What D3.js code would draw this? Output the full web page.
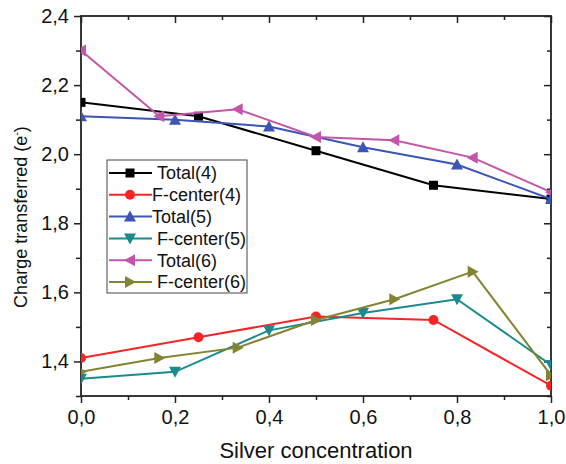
<!DOCTYPE html>
<html>
<head>
<meta charset="utf-8">
<script src="https://cdn.jsdelivr.net/npm/d3@7"></script>
<style>
body { margin: 0; background: #fff; }
svg { font-family: "Liberation Sans", Arial, sans-serif; }
</style>
</head>
<body>
<svg class="chart" width="566" height="464"></svg>
<script>
var seriesNames = ["Total(4)", "F-center(4)", "Total(5)", "F-center(5)", "Total(6)", "F-center(6)"];
var colors = ["#000000", "#f52525", "#3a55b4", "#1a8a8c", "#c255aa", "#838332"];
var symbols = ["square", "circle", "triUp", "triDown", "triLeft", "triRight"];

var x4 = [0, 0.25, 0.5, 0.75, 1.0];
var x5 = [0, 0.2, 0.4, 0.6, 0.8, 1.0];
var x6 = [0, 1/6, 1/3, 0.5, 2/3, 5/6, 1.0];

var total4 = [2.15, 2.11, 2.01, 1.91, 1.87];
var fcenter4 = [1.41, 1.47, 1.53, 1.52, 1.33];
var total5 = [2.11, 2.10, 2.08, 2.02, 1.97, 1.87];
var fcenter5 = [1.35, 1.37, 1.49, 1.54, 1.58, 1.39];
var total6 = [2.30, 2.11, 2.13, 2.05, 2.04, 1.99, 1.89];
var fcenter6 = [1.37, 1.41, 1.44, 1.52, 1.58, 1.66, 1.36];

var xTicks = [0, 0.2, 0.4, 0.6, 0.8, 1.0];
var yTicks = [1.4, 1.6, 1.8, 2.0, 2.2, 2.4];

var series = [
    [x4, total4], [x4, fcenter4], [x5, total5],
    [x5, fcenter5], [x6, total6], [x6, fcenter6]
];

var pL = 81, pR = 551, pT = 16, pB = 396;
var fmt = function(d) { return d3.format(".1f")(d).replace(".", ","); };
var isMajor = function(list, d) {
    return list.some(function(t) { return Math.abs(t - d) < 1e-6; });
};

var x = d3.scaleLinear().domain([0, 1]).range([pL, pR]);
var y = d3.scaleLinear().domain([1.3, 2.4]).range([pB, pT]);

var chart = d3.select(".chart");

chart.append("defs").append("clipPath").attr("id", "plot")
    .append("rect")
    .attr("x", pL).attr("y", pT)
    .attr("width", pR - pL).attr("height", pB - pT);

function marker(sel, sym, color) {
    if (sym == "circle") {
        sel.append("circle").attr("r", 5).attr("fill", color);
    } else if (sym == "square") {
        sel.append("rect").attr("x", -4.5).attr("y", -4.5)
            .attr("width", 9).attr("height", 9).attr("fill", color);
    } else {
        var pts = {
            triUp: "0,-6 6,5 -6,5",
            triDown: "0,6 6,-5 -6,-5",
            triLeft: "-6,0 5,-6 5,6",
            triRight: "6,0 -5,-6 -5,6"
        }[sym];
        sel.append("polygon").attr("points", pts).attr("fill", color);
    }
}

// axes (major + minor ticks, box on all four sides)
var minorX = d3.range(0, 1.001, 0.1);
var minorY = d3.range(1.3, 2.401, 0.1);

var xAxisB = d3.axisBottom(x).tickValues(minorX)
    .tickSize(6).tickPadding(8)
    .tickFormat(function(d) { return isMajor(xTicks, d) ? fmt(d) : ""; });
var gx = chart.append("g").attr("transform", "translate(0," + pB + ")").call(xAxisB);
gx.attr("font-size", 20).attr("font-family", null);
gx.selectAll(".tick line").attr("y2", function(d) { return isMajor(xTicks, d) ? 7 : 4; });

var xAxisT = d3.axisBottom(x).tickValues(minorX).tickSize(6).tickFormat("");
var gxt = chart.append("g").attr("transform", "translate(0," + pT + ")").call(xAxisT);
gxt.selectAll(".tick line").attr("y2", function(d) { return isMajor(xTicks, d) ? 7 : 4; });

var yAxisL = d3.axisLeft(y).tickValues(minorY)
    .tickSize(6).tickPadding(6)
    .tickFormat(function(d) { return isMajor(yTicks, d) ? fmt(d) : ""; });
var gy = chart.append("g").attr("transform", "translate(" + pL + ",0)").call(yAxisL);
gy.attr("font-size", 20).attr("font-family", null);
gy.selectAll(".tick line").attr("x2", function(d) { return isMajor(yTicks, d) ? -7 : -5; });

var yAxisR = d3.axisLeft(y).tickValues(minorY).tickSize(6).tickFormat("");
var gyr = chart.append("g").attr("transform", "translate(" + pR + ",0)").call(yAxisR);
gyr.selectAll(".tick line").attr("x2", function(d) { return isMajor(yTicks, d) ? -7 : -4; });

chart.selectAll(".domain").remove();
chart.selectAll(".tick line").attr("stroke", "#222").attr("stroke-width", 1.5);
chart.selectAll(".tick text").attr("fill", "#111");

chart.append("rect")
    .attr("x", pL).attr("y", pT)
    .attr("width", pR - pL).attr("height", pB - pT)
    .attr("fill", "none").attr("stroke", "#222").attr("stroke-width", 1.8);

// series
var plot = chart.append("g").attr("clip-path", "url(#plot)");
var line = d3.line().x(function(d) { return x(d[0]); }).y(function(d) { return y(d[1]); });

series.forEach(function(s, k) {
    var pts = s[0].map(function(v, i) { return [v, s[1][i]]; });
    plot.append("path").datum(pts).attr("d", line)
        .attr("fill", "none").attr("stroke", colors[k]).attr("stroke-width", 2);
    pts.forEach(function(p) {
        var g = plot.append("g").attr("transform", "translate(" + x(p[0]) + "," + y(p[1]) + ")");
        marker(g, symbols[k], colors[k]);
    });
});

// legend
var legend = chart.append("g");
legend.append("rect").attr("x", 107).attr("y", 160).attr("width", 140).attr("height", 133)
    .attr("fill", "#fff").attr("stroke", "#444").attr("stroke-width", 1);
seriesNames.forEach(function(name, k) {
    var cy = 173 + k * 21.8;
    legend.append("line").attr("x1", 109).attr("x2", 152).attr("y1", cy).attr("y2", cy)
        .attr("stroke", colors[k]).attr("stroke-width", 2);
    var g = legend.append("g").attr("transform", "translate(130," + cy + ")");
    marker(g, symbols[k], colors[k]);
    legend.append("text").attr("x", (k == 1 || k == 2) ? 152 : 157).attr("y", cy)
        .attr("dy", "0.36em").attr("font-size", "18px").attr("fill", "#111").text(name);
});

// titles
chart.append("text").attr("x", (pL + pR) / 2).attr("y", 458)
    .attr("text-anchor", "middle").attr("font-size", "22px").attr("fill", "#111")
    .text("Silver concentration");

var yt = chart.append("text").attr("transform", "translate(27,217) rotate(-90)")
    .attr("text-anchor", "middle").attr("font-size", "18px").attr("fill", "#111");
yt.append("tspan").text("Charge transferred (e");
yt.append("tspan").attr("font-size", "11px").attr("dy", "-7").text("-");
yt.append("tspan").attr("dy", "7").text(")");
</script>
</body>
</html>
